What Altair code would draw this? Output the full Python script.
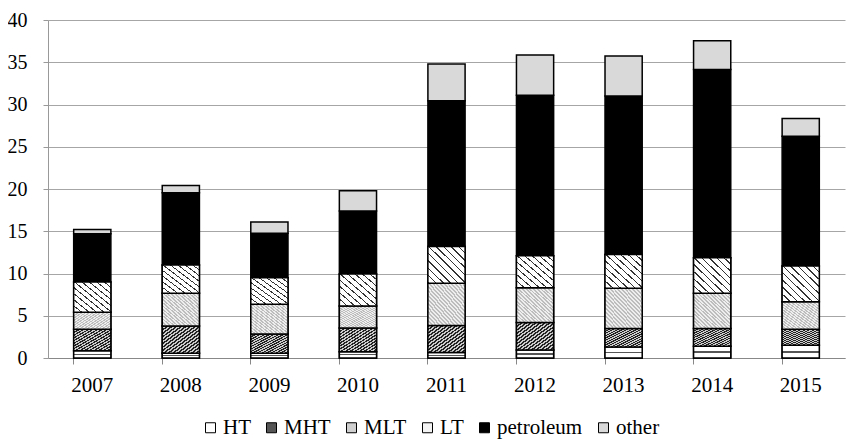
import altair as alt
import pandas as pd

years = ["2007", "2008", "2009", "2010", "2011", "2012", "2013", "2014", "2015"]
series = ["HT", "MHT", "MLT", "LT", "petroleum", "other"]
HT = [0.85, 0.55, 0.55, 0.75, 0.65, 0.95, 1.3, 1.4, 1.5]
MHT = [2.55, 3.25, 2.3, 2.8, 3.2, 3.25, 2.2, 2.1, 1.9]
MLT = [2.0, 3.85, 3.5, 2.6, 5.0, 4.1, 4.75, 4.15, 3.25]
LT = [3.6, 3.35, 3.15, 3.8, 4.35, 3.8, 4.0, 4.2, 4.25]
petroleum = [5.7, 8.55, 5.25, 7.45, 17.25, 19.0, 18.75, 22.3, 15.35]
other = [0.5, 0.85, 1.35, 2.4, 4.35, 4.75, 4.75, 3.4, 2.1]
y_ticks = [0, 5, 10, 15, 20, 25, 30, 35, 40]

values = {"HT": HT, "MHT": MHT, "MLT": MLT, "LT": LT, "petroleum": petroleum, "other": other}
rows = []
for si, s in enumerate(series):
    for yi, yr in enumerate(years):
        rows.append({"year": yr, "series": s, "order": si, "value": values[s][yi]})
df = pd.DataFrame(rows)


def stripes(n, c1, c2, frac, x1, y1, x2, y2):
    stops = []
    for i in range(n):
        a = i / n
        b = (i + frac) / n
        c = (i + 1) / n
        stops += [
            {"offset": a, "color": c1},
            {"offset": b, "color": c1},
            {"offset": b, "color": c2},
            {"offset": c, "color": c2},
        ]
    return {"gradient": "linear", "x1": x1, "y1": y1, "x2": x2, "y2": y2, "stops": stops}


patterns = {
    "HT": {"gradient": "linear", "x1": 0, "y1": 0, "x2": 0, "y2": 1,
           "stops": [{"offset": 0, "color": "#ffffff"}, {"offset": 0.42, "color": "#ffffff"},
                     {"offset": 0.42, "color": "#555555"}, {"offset": 0.58, "color": "#555555"},
                     {"offset": 0.58, "color": "#ffffff"}, {"offset": 1, "color": "#ffffff"}]},
    "MHT": stripes(16, "#222222", "#cccccc", 0.5, 0, 0, 1, 1),
    "MLT": stripes(20, "#bdbdbd", "#eeeeee", 0.5, 0, 1, 1, 0),
    "LT": stripes(10, "#333333", "#ffffff", 0.2, 0, 1, 1, 0),
}

font = "Liberation Serif"
base = alt.Chart(df).transform_stack(
    stack="value", groupby=["year"], as_=["y0", "y1"],
    sort=[alt.SortField("order", order="ascending")]
)

x_enc = alt.X("year:N", title=None, sort=years,
              scale=alt.Scale(paddingInner=0.58, paddingOuter=0.29),
              axis=alt.Axis(bandPosition=0, labelAngle=0, tickSize=6,
                            domainColor="#888888", tickColor="#888888", labelFontSize=21,
                            labelFont=font, labelColor="#000000", labelPadding=10, grid=False))
y_enc = alt.Y("y0:Q", title=None, scale=alt.Scale(domain=[0, 40], nice=False),
              axis=alt.Axis(values=y_ticks, tickSize=5, domainColor="#999999", tickColor="#999999",
                            gridColor="#a6a6a6", gridWidth=1, labelFontSize=20, labelFont=font,
                            labelColor="#000000", labelPadding=16))

main = base.mark_bar(stroke="#000000", strokeWidth=1.5).encode(
    x=x_enc, y=y_enc, y2="y1:Q",
    fill=alt.Fill("series:N", sort=series,
                  scale=alt.Scale(domain=series,
                                  range=["#ffffff", "#555555", "#cfcfcf", "#f4f4f4", "#000000", "#d9d9d9"]),
                  legend=alt.Legend(title=None, orient="none", direction="horizontal",
                                    legendX=152, legendY=397,
                                    symbolType="square", symbolSize=100, symbolStrokeColor="#000000",
                                    symbolStrokeWidth=1, labelFontSize=21, labelFont=font,
                                    labelColor="#000000", columnPadding=10, labelOffset=2)),
)

layers = [main]
for s in ["HT", "MHT", "MLT", "LT"]:
    layers.append(
        base.transform_filter(alt.datum.series == s)
        .mark_bar(fill=patterns[s], stroke="#000000", strokeWidth=1.5)
        .encode(x=x_enc, y=y_enc, y2="y1:Q")
    )

chart = alt.layer(*layers).properties(
    width=797, height=338,
    autosize=alt.AutoSizeParams(type="none"),
    padding={"left": 40, "top": 12, "right": 4, "bottom": 84},
).configure(font=font).configure_view(stroke=None)

chart.save("out.html", embed_options={"renderer": "svg", "actions": False})
